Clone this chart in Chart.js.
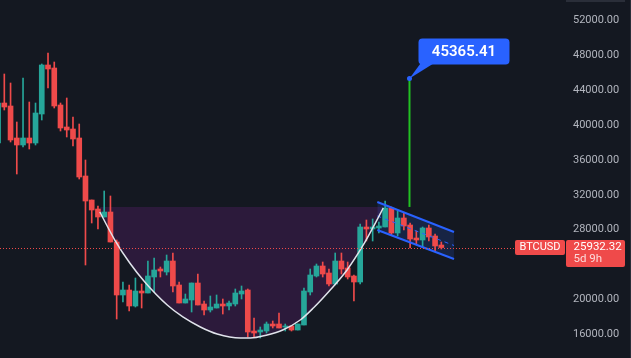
<!DOCTYPE html>
<html>
<head>
<meta charset="utf-8">
<script src="https://cdn.jsdelivr.net/npm/chart.js@4.4.0/dist/chart.umd.min.js"></script>
<style>
  html, body { margin: 0; padding: 0; background: #141821; }
  #wrap { width: 631px; height: 358px; position: relative; }
</style>
</head>
<body>
<div id="wrap"><canvas id="chart"></canvas></div>
<script>
// Bougies BTCUSD (une valeur par bougie)
const opens  = [37947, 42543, 42199, 38522, 37718, 38522, 37947, 41279, 46910, 46565,
                42314, 39786, 39556, 38522, 34156, 31398, 30364, 29445, 30019, 26572,
                20483, 21057, 19219, 20942, 20712, 22551, 23470, 23125, 24389, 21631,
                19563, 19908, 21861, 19448, 18759, 18989, 19448, 19219, 19448, 20597,
                21057, 16346, 16231, 16346, 17150, 17150, 16806, 16921, 16461, 17036,
                20827, 22666, 23815, 23010, 21746, 24389, 23585, 22666, 21976, 28296,
                28066, 28181, 28296, 30479, 27607, 29330, 28526, 27032, 26802, 28181,
                27262, 26228];
const highs  = [42900, 45875, 44841, 40360, 45416, 42658, 42543, 47024, 48288, 47254,
                42543, 43118, 40935, 40130, 35994, 31398, 30709, 32432, 31858, 26802,
                21976, 21631, 22436, 21746, 24389, 24734, 23700, 25079, 25308, 21976,
                20597, 21861, 22895, 19793, 20368, 20483, 20023, 19793, 21172, 21517,
                21172, 17840, 16806, 17380, 17495, 18414, 17150, 16921, 17150, 21287,
                23470, 24044, 24274, 23470, 25308, 25308, 24274, 22781, 28641, 29100,
                29215, 28870, 31283, 30594, 30134, 29905, 28756, 27837, 28296, 28526,
                27492, 26572];
const lows   = [37700, 41739, 38062, 34385, 37488, 37258, 37718, 40590, 44267, 41969,
                39326, 38637, 37603, 33811, 23930, 28756, 28066, 29445, 26572, 17725,
                19678, 18644, 19104, 18989, 20712, 20827, 22551, 22781, 20827, 19563,
                19563, 18529, 19333, 18184, 18529, 18989, 18299, 18759, 19219, 20023,
                15657, 15657, 15542, 16116, 16691, 16691, 16346, 16346, 16461, 17036,
                20483, 22551, 22551, 21517, 21631, 22895, 22321, 19793, 21746, 26687,
                26687, 27607, 28296, 27377, 27262, 27951, 25883, 26342, 25998, 26687,
                25538, 25768];
const closes = [42543, 42084, 38292, 37718, 38522, 37947, 41394, 46910, 46450, 42199,
                39671, 39441, 38407, 34041, 31283, 30249, 29445, 30019, 26572, 20483,
                21057, 19219, 20942, 20712, 22666, 23355, 23240, 24389, 21517, 19563,
                20023, 21861, 19333, 18759, 19104, 19448, 19219, 19563, 20712, 20942,
                16231, 16116, 16461, 17150, 16921, 16691, 16921, 16461, 17150, 20942,
                22781, 23815, 22895, 21746, 24389, 23470, 22551, 21976, 28296, 28066,
                28296, 28411, 30479, 27607, 29330, 28411, 26917, 26802, 28181, 27147,
                26113, 25932.32];

// Graduations de l'axe des prix
const priceTicks = [16000, 20000, 24000, 28000, 32000, 36000, 40000, 44000, 48000, 52000];

// Figure "tasse" : courbe (index de bougie, prix) et niveau du bord
const cupX = [16.3, 18.7, 21.1, 23.5, 27.1, 29.6, 32.4, 35.1, 38.8, 40.4,
              43.1, 45.6, 48.4, 50.5, 53.2, 55.9, 58.5, 60.1, 61.7];
const cupY = [30020, 26800, 24160, 21980, 19330, 17960, 16810, 16000, 15540, 15540,
              15890, 16460, 17610, 18990, 21060, 23360, 26230, 28300, 30480];
const cupTop = 30600;

// Canal baissier (anse)
const channelX = [60.75, 73.03];
const channelTop = [31168, 27721];
const channelMid = [29560, 26170];
const channelBottom = [27951, 24619];

// Objectif
const targetIdx = 65.9;
const targetBase = 30600;
const targetPrice = 45365.41;

const upColor = '#26a69a';
const downColor = '#ef4a4a';
const candleColors = opens.map((o, i) => closes[i] >= o ? upColor : downColor);

const overlay = {
    id: 'overlay',
    afterDraw(chart) {
        const { ctx, chartArea, scales: { x, y } } = chart;
        const lastClose = closes[closes.length - 1];
        const py = y.getPixelForValue(lastClose);
        const right = chartArea.right;
        ctx.save();

        // ligne de prix pointillée
        ctx.strokeStyle = downColor;
        ctx.lineWidth = 1;
        ctx.setLineDash([1, 2]);
        ctx.beginPath();
        ctx.moveTo(chartArea.left, Math.round(py) + 0.5);
        ctx.lineTo(right - 51, Math.round(py) + 0.5);
        ctx.stroke();
        ctx.setLineDash([]);

        // étiquette BTCUSD
        ctx.fillStyle = downColor;
        ctx.beginPath();
        ctx.roundRect(right - 51, py - 7.5, 50, 15, 2);
        ctx.fill();
        ctx.fillStyle = '#ffffff';
        ctx.font = '11px Roboto';
        ctx.textAlign = 'center';
        ctx.textBaseline = 'middle';
        ctx.fillText('BTCUSD', right - 26, py);

        // étiquette du prix sur l'axe
        ctx.fillStyle = downColor;
        ctx.beginPath();
        ctx.roundRect(right, py - 7.5, 59, 27, 2);
        ctx.fill();
        ctx.fillStyle = '#ffffff';
        ctx.font = '11.5px Roboto';
        ctx.textAlign = 'left';
        ctx.fillText(lastClose.toFixed(2), right + 7.5, py);
        ctx.fillStyle = 'rgba(255,255,255,0.8)';
        ctx.fillText('5d 9h', right + 7.5, py + 12);

        // bulle de l'objectif
        const tx = x.getPixelForValue(targetIdx);
        const ty = y.getPixelForValue(targetPrice);
        ctx.fillStyle = '#2962ff';
        ctx.beginPath();
        ctx.moveTo(tx, ty);
        ctx.lineTo(tx + 11, ty - 15);
        ctx.lineTo(tx + 24, ty - 15);
        ctx.closePath();
        ctx.fill();
        ctx.beginPath();
        ctx.roundRect(tx + 9, ty - 40, 91, 26, 4);
        ctx.fill();
        ctx.beginPath();
        ctx.arc(tx, ty, 2.5, 0, Math.PI * 2);
        ctx.fill();
        ctx.fillStyle = '#ffffff';
        ctx.font = '600 15px Roboto';
        ctx.textAlign = 'center';
        ctx.fillText(targetPrice.toFixed(2), tx + 54.5, ty - 26.5);

        // bordure de l'axe
        ctx.fillStyle = '#2a2e39';
        ctx.fillRect(right, 0, 59, 2);
        ctx.fillRect(chart.width - 1, 0, 1, chart.height);
        ctx.restore();
    }
};

const ctx = document.getElementById('chart').getContext('2d');
new Chart(ctx, {
    type: 'bar',
    data: {
        datasets: [
            {
                type: 'line',
                data: cupX.map((v, i) => ({ x: v, y: cupY[i] })),
                borderColor: '#e0e3eb',
                borderWidth: 1.5,
                pointRadius: 0,
                cubicInterpolationMode: 'monotone',
                fill: { value: cupTop },
                backgroundColor: 'rgba(156,39,176,0.18)',
                order: 1
            },
            {
                type: 'line',
                data: channelX.map((v, i) => ({ x: v, y: channelTop[i] })),
                borderColor: '#2962ff',
                borderWidth: 2,
                pointRadius: 0,
                fill: '+2',
                backgroundColor: 'rgba(41,98,255,0.16)',
                order: 1
            },
            {
                type: 'line',
                data: channelX.map((v, i) => ({ x: v, y: channelMid[i] })),
                borderColor: '#2962ff',
                borderWidth: 1,
                borderDash: [4, 4],
                pointRadius: 0,
                fill: false,
                order: 1
            },
            {
                type: 'line',
                data: channelX.map((v, i) => ({ x: v, y: channelBottom[i] })),
                borderColor: '#2962ff',
                borderWidth: 2,
                pointRadius: 0,
                fill: false,
                order: 1
            },
            {
                type: 'line',
                data: [{ x: targetIdx, y: targetBase }, { x: targetIdx, y: targetPrice }],
                borderColor: '#22c122',
                borderWidth: 2,
                pointRadius: 0,
                fill: false,
                order: 1
            },
            {
                // mèches
                data: lows.map((l, i) => ({ x: i, y: [l, highs[i]] })),
                backgroundColor: candleColors,
                barThickness: 1,
                grouped: false,
                order: 3
            },
            {
                // corps
                data: opens.map((o, i) => ({ x: i, y: [o, closes[i]] })),
                backgroundColor: candleColors,
                barThickness: 5,
                minBarLength: 1,
                grouped: false,
                order: 2
            }
        ]
    },
    options: {
        responsive: true,
        maintainAspectRatio: false,
        animation: false,
        layout: { padding: 0 },
        plugins: {
            legend: { display: false },
            tooltip: { enabled: false },
            filler: { drawTime: 'beforeDatasetsDraw' }
        },
        scales: {
            x: { type: 'linear', min: 0.31, max: 90.97, offset: false, display: false },
            y: {
                position: 'right',
                min: 13244,
                max: 54378,
                grid: { display: false, drawTicks: false },
                border: { display: false },
                afterBuildTicks: s => { s.ticks = priceTicks.map(v => ({ value: v })); },
                afterFit: s => { s.width = 65; s.paddingTop = 0; s.paddingBottom = 0; },
                ticks: {
                    color: '#b2b5be',
                    padding: 7,
                    font: { family: 'Roboto', size: 11 },
                    callback: v => v.toFixed(2)
                }
            }
        }
    },
    plugins: [overlay]
});
</script>
</body>
</html>
